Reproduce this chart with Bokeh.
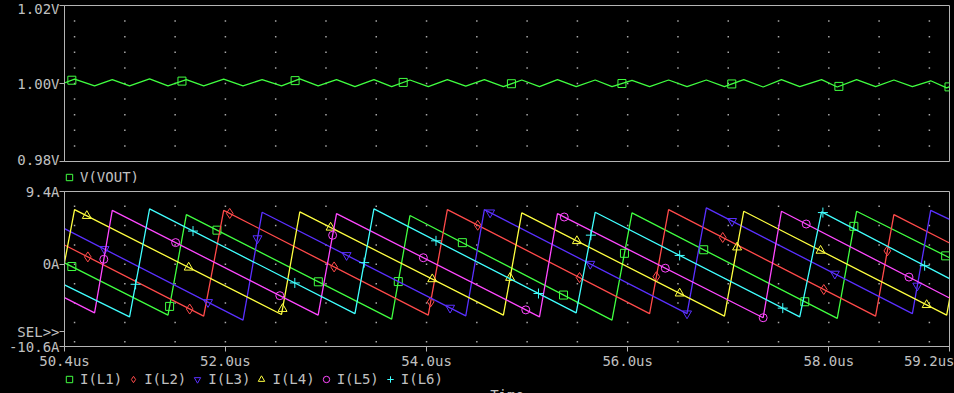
import numpy as np
from bokeh.plotting import figure
from bokeh.layouts import column
from bokeh.models import (Range1d, FixedTicker, Legend, LegendItem, Label,
                          GlobalInlineStyleSheet)
from bokeh.embed import file_html
from bokeh.resources import INLINE

# ---------------- data ----------------
x_start, x_end = 50.4, 59.2
v_min, v_max = 0.98, 1.02
i_min, i_max = -10.6, 9.4

x_ticks = [50.4, 52.0, 54.0, 56.0, 58.0, 59.2]
x_tick_labels = ["50.4us", "52.0us", "54.0us", "56.0us", "58.0us", "59.2us"]
v_ticks = [0.98, 1.00, 1.02]
v_tick_labels = ["0.98V", "1.00V", "1.02V"]
i_ticks = [-10.6, 0.0, 9.4]
i_tick_labels = ["-10.6A", "0A", "9.4A"]
sel_level = -8.68  # where the "SEL>>" marker sits on the current axis

# V(VOUT) ripple (us, V)
vout_t = [50.300, 50.500, 50.699, 50.875, 51.047, 51.246, 51.429, 51.612,
          51.784, 51.983, 52.175, 52.365, 52.558, 52.740, 52.922, 53.105,
          53.288, 53.477, 53.653, 53.835, 54.017, 54.207, 54.390, 54.575,
          54.764, 54.947, 55.123, 55.302, 55.488, 55.677, 55.844, 56.043,
          56.218, 56.407, 56.590, 56.782, 56.962, 57.154, 57.347, 57.529,
          57.711, 57.928, 58.084, 58.276, 58.465, 58.647, 58.831, 59.013,
          59.172, 59.360]
vout_v = [0.9992, 1.0011, 0.9994, 1.0010, 0.9994, 1.0012, 0.9994, 1.0010,
          0.9994, 1.0011, 0.9994, 1.0010, 0.9994, 1.0012, 0.9994, 1.0010,
          0.9992, 1.0010, 0.9992, 1.0009, 0.9992, 1.0010, 0.9993, 1.0010,
          0.9992, 1.0009, 0.9992, 1.0010, 0.9992, 1.0009, 0.9992, 1.0008,
          0.9992, 1.0009, 0.9992, 1.0009, 0.9992, 1.0010, 0.9991, 1.0010,
          0.9992, 1.0010, 0.9991, 1.0010, 0.9992, 1.0009, 0.9992, 1.0007,
          0.9989, 1.0008]
vout_mark_t = [50.473, 51.568, 52.693, 53.768, 54.844, 55.943, 57.035, 58.100, 59.195]

# Inductor currents (us, A)
l1_t = [50.400, 51.429, 51.612, 53.653, 53.835, 55.844, 56.043, 58.084, 58.276, 59.200]
l1_i = [0.20, -6.56, 6.42, -7.07, 6.30, -7.20, 6.64, -6.98, 6.85, 0.85]
l1_mark_t = [50.473, 51.445, 51.916, 52.924, 53.719, 54.356, 55.362, 55.968,
             56.756, 57.761, 58.249, 59.162]

l2_t = [50.400, 51.784, 51.983, 54.017, 54.207, 56.218, 56.407, 58.465, 58.647, 59.200]
l2_i = [2.50, -6.69, 6.97, -6.56, 7.06, -6.35, 7.06, -6.69, 6.42, 2.75]
l2_mark_t = [50.632, 51.645, 52.043, 53.081, 54.041, 54.509, 55.521, 56.285,
             56.945, 57.950, 58.582]

l3_t = [50.400, 52.175, 52.365, 54.390, 54.575, 56.590, 56.782, 58.831, 59.013, 59.200]
l3_i = [4.60, -7.20, 6.72, -6.64, 7.06, -6.35, 7.28, -6.35, 6.97, 5.80]
l3_mark_t = [50.798, 51.827, 52.319, 53.205, 54.234, 54.632, 55.628, 56.590,
             57.038, 58.060, 58.880]

l4_t = [50.300, 50.500, 52.558, 52.740, 54.764, 54.947, 56.962, 57.154, 59.172, 59.360]
l4_i = [-6.60, 7.06, -6.47, 6.77, -6.56, 6.64, -6.69, 6.85, -6.56, 6.90]
l4_mark_t = [50.622, 51.635, 52.568, 53.046, 54.057, 54.831, 55.495, 56.517,
             57.088, 57.918, 58.973]

l5_t = [50.400, 50.699, 50.875, 52.922, 53.105, 55.123, 55.302, 57.347, 57.529, 59.200]
l5_i = [-4.30, -6.26, 6.97, -6.56, 6.55, -6.77, 6.55, -6.89, 6.85, -4.34]
l5_mark_t = [50.791, 51.505, 52.541, 53.066, 53.968, 54.987, 55.369, 56.374,
             57.347, 57.775, 58.797]

l6_t = [50.400, 51.047, 51.246, 53.288, 53.477, 55.488, 55.677, 57.711, 57.928, 59.200]
l6_i = [-2.64, -6.77, 7.15, -6.35, 7.15, -6.26, 6.72, -6.77, 6.77, -1.85]
l6_mark_t = [51.107, 51.678, 52.690, 53.380, 54.094, 55.113, 55.634, 56.517,
             57.542, 57.941, 58.953]

current_names = ["I(L1)", "I(L2)", "I(L3)", "I(L4)", "I(L5)", "I(L6)"]

# ---------------- styling ----------------
FONT = "DejaVu Sans Mono"
FS = "14px"
TXT = "#c0c0c0"
FRAME = "#b4b4b4"
DOT = "#a8a8a8"
BG = "#000000"
W = 954
LEFT, RIGHT = 64, 5
LW = 1.3
GLYPH_H = 16

colors = ["#40ff40", "#ff4a4a", "#5a30ff", "#ffff40", "#ff48ff", "#40ffff"]
markers = ["square", "diamond", "inverted_triangle", "triangle", "circle", "cross"]
msizes = [8, 10, 9, 9, 8, 10]

x_range = Range1d(x_start, x_end)


def base_style(p):
    p.background_fill_color = BG
    p.border_fill_color = BG
    p.outline_line_color = FRAME
    p.outline_line_width = 1
    for g in p.grid:
        g.visible = False
    for ax in p.axis:
        ax.axis_line_color = FRAME
        ax.major_tick_line_color = FRAME
        ax.minor_tick_line_color = None
        ax.major_tick_in = 0
        ax.major_tick_out = 5
        ax.major_label_text_color = TXT
        ax.major_label_text_font = FONT
        ax.major_label_text_font_size = FS


def dots(p, gx, gy):
    XX, YY = np.meshgrid(gx, gy)
    p.scatter(XX.ravel(), YY.ravel(), marker="square", size=1.5,
              line_color=None, fill_color=DOT)


# legend rows live in their own strip figures; their y-range lies far away from
# every data value, so the series drawn there (only for the legend) stay hidden
LEG_Y0, LEG_Y1 = 20.0, 21.0


def legend_fig(height):
    f = figure(width=W, height=height, x_range=x_range,
               y_range=Range1d(LEG_Y0, LEG_Y1),
               output_backend="svg", toolbar_location=None,
               x_axis_location=None, y_axis_location=None,
               min_border_left=LEFT, min_border_right=RIGHT,
               min_border_top=0, min_border_bottom=0)
    f.background_fill_color = BG
    f.border_fill_color = BG
    f.outline_line_color = None
    for g in f.grid:
        g.visible = False
    return f


def make_legend(items, strip_height, top_gap):
    # (x, y) location: offset from the strip's bottom-left corner
    lg = Legend(items=items, orientation="horizontal",
                location=(-4, strip_height - top_gap - GLYPH_H))
    lg.background_fill_alpha = 0
    lg.border_line_color = None
    lg.label_text_color = TXT
    lg.label_text_font = FONT
    lg.label_text_font_size = FS
    lg.glyph_width = 18
    lg.glyph_height = GLYPH_H
    lg.label_height = 14
    lg.label_standoff = 2
    lg.spacing = 2
    lg.padding = 0
    lg.margin = 0
    return lg


lab_kw = dict(text_color=TXT, text_font=FONT, text_font_size=FS)

# ---------------- top panel: V(VOUT) ----------------
p1 = figure(width=W, height=167, x_range=x_range, y_range=Range1d(v_min, v_max),
            output_backend="svg", toolbar_location=None, x_axis_location=None,
            min_border_left=LEFT, min_border_right=RIGHT, min_border_top=5,
            min_border_bottom=6)
base_style(p1)
p1.yaxis.ticker = FixedTicker(ticks=v_ticks, minor_ticks=[])
p1.yaxis.major_label_overrides = dict(zip(v_ticks, v_tick_labels))
p1.yaxis.major_label_standoff = 0

dots(p1, np.arange(50.5, 59.01, 0.5), np.arange(0.984, 1.0161, 0.004))
vout_mark_v = np.interp(vout_mark_t, vout_t, vout_v)
p1.line(vout_t, vout_v, line_color=colors[0], line_width=LW)
p1.scatter(vout_mark_t, vout_mark_v, marker="square",
           size=8, line_color=colors[0], fill_alpha=0, line_width=1)

# legend row for the top panel
LF1_H = 16
lf1 = legend_fig(LF1_H)
k1 = lf1.scatter(vout_mark_t, vout_mark_v, marker="square", size=7,
                 line_color=colors[0], fill_alpha=0)
lf1.add_layout(make_legend([LegendItem(label="V(VOUT)", renderers=[k1])], LF1_H, 2))

# ---------------- bottom panel: inductor currents ----------------
p2 = figure(width=W, height=188, x_range=x_range, y_range=Range1d(i_min, i_max),
            output_backend="svg", toolbar_location=None,
            min_border_left=LEFT, min_border_right=RIGHT, min_border_top=8,
            min_border_bottom=23)
base_style(p2)
p2.yaxis.ticker = FixedTicker(ticks=i_ticks + [sel_level], minor_ticks=[])
yo = dict(zip(i_ticks, i_tick_labels))
yo[sel_level] = "SEL>>"
p2.yaxis.major_label_overrides = yo
p2.yaxis.major_label_standoff = 0
p2.xaxis.ticker = FixedTicker(ticks=x_ticks, minor_ticks=[])
p2.xaxis.major_label_overrides = dict(zip(x_ticks, x_tick_labels))
p2.xaxis.major_label_standoff = 1

dots(p2, np.arange(50.5, 59.01, 0.5), np.arange(-10.0, 7.51, 2.5))

all_t = [l1_t, l2_t, l3_t, l4_t, l5_t, l6_t]
all_i = [l1_i, l2_i, l3_i, l4_i, l5_i, l6_i]
all_m = [l1_mark_t, l2_mark_t, l3_mark_t, l4_mark_t, l5_mark_t, l6_mark_t]
for t, cur, mt, c, mk, ms in zip(all_t, all_i, all_m, colors, markers, msizes):
    p2.line(t, cur, line_color=c, line_width=LW)
    p2.scatter(mt, np.interp(mt, t, cur), marker=mk, size=ms,
               line_color=c, fill_alpha=0, line_width=1)

# legend row + "Time" for the bottom panel
LF2_H = 22
lf2 = legend_fig(LF2_H)
items = []
for name, t, cur, mt, c, mk, ms in zip(current_names, all_t, all_i, all_m,
                                       colors, markers, msizes):
    k = lf2.scatter(mt, np.interp(mt, t, cur), marker=mk, size=ms - 1,
                    line_color=c, fill_alpha=0)
    items.append(LegendItem(label=name, renderers=[k]))
lf2.add_layout(make_legend(items, LF2_H, 0))
lf2.add_layout(Label(x=(x_start + x_end) / 2, y=LEG_Y1 - 15 / LF2_H, text="Time",
                     text_align="center", text_baseline="top", **lab_kw))

layout = column(p1, lf1, p2, lf2, spacing=0)
layout.stylesheets = [GlobalInlineStyleSheet(css="body{background:#000000;}")]

open("out.html", "w").write(file_html(layout, INLINE))
